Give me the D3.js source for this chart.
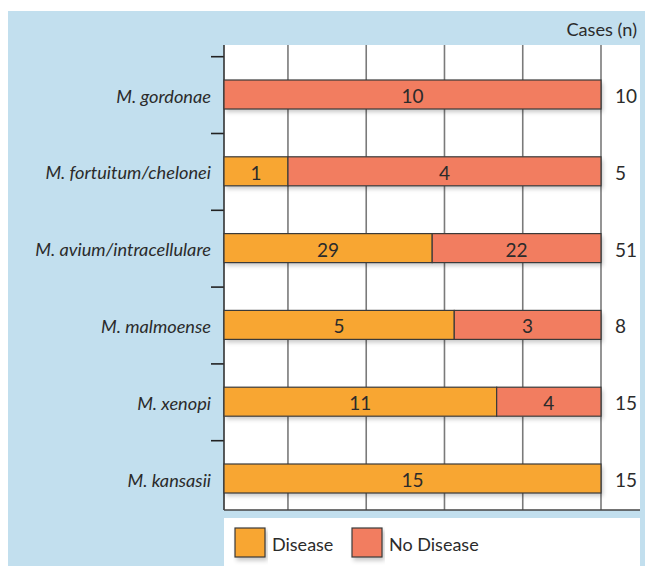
<!DOCTYPE html>
<html><head><meta charset="utf-8">
<script src="https://cdn.jsdelivr.net/npm/d3@7"></script>
<style>
html,body{margin:0;padding:0;background:#fff;}
svg{display:block;font-family:Lato,"Open Sans",sans-serif;}
</style></head>
<body><svg id="c" width="645" height="566"></svg>
<script>
const species = ["M. gordonae","M. fortuitum/chelonei","M. avium/intracellulare","M. malmoense","M. xenopi","M. kansasii"];
const disease = [0,1,29,5,11,15];
const noDisease = [10,4,22,3,4,0];
const seriesNames = ["Disease","No Disease"];
const gridTicks = [20,40,60,80,100];
const totalsTitle = "Cases (n)";

const colors = {"Disease":"#F8A632","No Disease":"#F27D60"};
const svg = d3.select("#c");
const defs = svg.append("defs");
const f = defs.append("filter").attr("id","sh").attr("x","-5%").attr("y","-20%").attr("width","115%").attr("height","170%");
f.append("feDropShadow").attr("dx",2).attr("dy",3).attr("stdDeviation",2).attr("flood-color","#000").attr("flood-opacity",0.22);

// backgrounds
svg.append("rect").attr("x",8).attr("y",11).attr("width",645).attr("height",566).attr("fill","#C2DFEE");
const plotL=224, plotR=640, plotT=45, plotB=510;
svg.append("rect").attr("x",plotL).attr("y",plotT).attr("width",plotR-plotL).attr("height",plotB-plotT).attr("fill","#fff");
svg.append("rect").attr("x",plotL).attr("y",518).attr("width",plotR-plotL).attr("height",60).attr("fill","#fff");

const x = d3.scaleLinear().domain([0,100]).range([209.7,601]);
const y = d3.scaleBand().domain(species).range([56.7,56.7+76.8*6]).padding(0);
const barH = 29, barOff = 23.3;

// gridlines
svg.append("g").selectAll("line").data(gridTicks).join("line")
  .attr("x1",d=>x(d)).attr("x2",d=>x(d)).attr("y1",plotT).attr("y2",plotB)
  .attr("stroke","#7a7a7a").attr("stroke-width",1.6);

// left axis ticks
svg.append("g").selectAll("line").data(species).join("line")
  .attr("x1",211).attr("x2",plotL).attr("y1",d=>y(d)).attr("y2",d=>y(d))
  .attr("stroke","#222").attr("stroke-width",1.6);
svg.append("line").attr("x1",plotL).attr("x2",plotL).attr("y1",plotT).attr("y2",plotB).attr("stroke","#333").attr("stroke-width",1.6);
svg.append("line").attr("x1",plotL).attr("x2",plotR).attr("y1",plotB).attr("y2",plotB).attr("stroke","#444").attr("stroke-width",1.6);

// category labels
svg.append("g").selectAll("text").data(species).join("text")
  .attr("x",211).attr("y",d=>y(d)+barOff+barH/2+1)
  .attr("text-anchor","end").attr("dominant-baseline","central")
  .attr("font-style","italic").attr("font-size",18.2).attr("fill","#2b2b2b").text(d=>d);

// stacked bars
const rows = species.map((s,i)=>({s, total:disease[i]+noDisease[i], vals:[disease[i],noDisease[i]]}));
const segs = [];
rows.forEach(r=>{
  let acc=0;
  r.vals.forEach((v,j)=>{
    if(v>0){
      const a=acc/r.total*100, b=(acc+v)/r.total*100;
      segs.push({s:r.s, name:seriesNames[j], v, x0:Math.max(x(a),plotL), x1:x(b)});
    }
    acc+=v;
  });
});
const bg = svg.append("g");
bg.selectAll("rect.sh").data(rows).join("rect")
  .attr("x",plotL).attr("y",d=>y(d.s)+barOff).attr("width",x(100)-plotL).attr("height",barH)
  .attr("fill","#fff").attr("filter","url(#sh)");
bg.selectAll("rect.seg").data(segs).join("rect")
  .attr("x",d=>d.x0).attr("y",d=>y(d.s)+barOff).attr("width",d=>d.x1-d.x0).attr("height",barH)
  .attr("fill",d=>colors[d.name]).attr("stroke","#3a3a3a").attr("stroke-width",1.2);
bg.selectAll("text").data(segs).join("text")
  .attr("x",d=>(d.x0+d.x1)/2).attr("y",d=>y(d.s)+barOff+barH/2+1)
  .attr("text-anchor","middle").attr("dominant-baseline","central")
  .attr("font-size",19).attr("fill","#2b2b2b").text(d=>d.v);

// totals
svg.append("g").selectAll("text").data(rows).join("text")
  .attr("x",615).attr("y",d=>y(d.s)+barOff+barH/2+1)
  .attr("dominant-baseline","central").attr("font-size",19).attr("fill","#2b2b2b").text(d=>d.total);
svg.append("text").attr("x",637).attr("y",36).attr("text-anchor","end")
  .attr("font-size",18.2).attr("fill","#2b2b2b").text(totalsTitle);

// legend
const lg = svg.append("g").selectAll("g").data(seriesNames).join("g")
  .attr("transform",(d,i)=>`translate(${[235,352][i]},528)`);
lg.append("rect").attr("width",30).attr("height",29).attr("fill",d=>colors[d])
  .attr("stroke","#3a3a3a").attr("stroke-width",1.2).attr("filter","url(#sh)");
lg.append("text").attr("x",37).attr("y",15.5).attr("dominant-baseline","central")
  .attr("font-size",18).attr("fill","#2b2b2b").text(d=>d);
</script></body></html>
